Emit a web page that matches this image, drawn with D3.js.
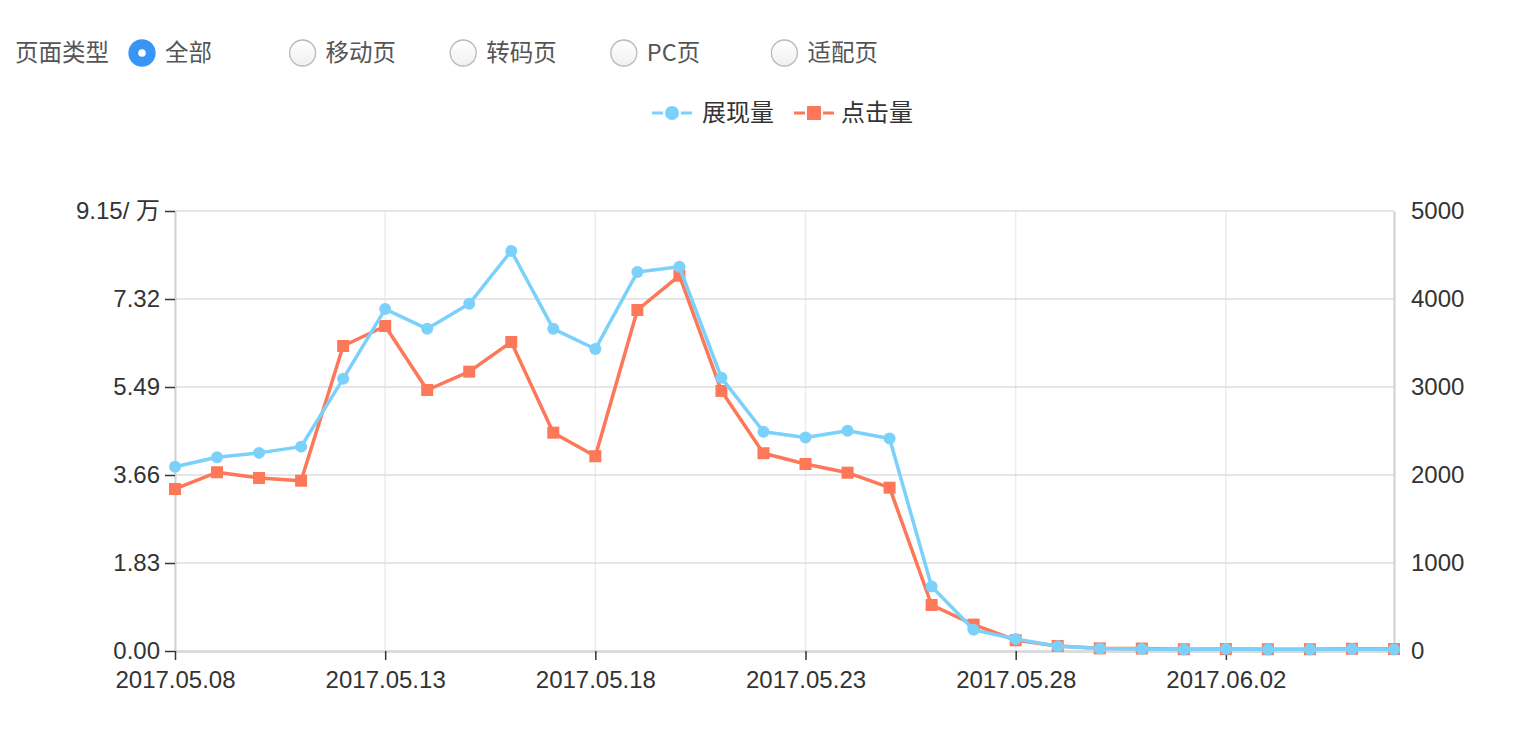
<!DOCTYPE html>
<html>
<head>
<meta charset="utf-8">
<script src="https://cdn.jsdelivr.net/npm/d3@7"></script>
<style>
  body { margin: 0; background: #fff; }
  svg { display: block; }
</style>
</head>
<body>
<div id="chart"></div>
<script>
// Data
const dates = ["2017.05.08", "2017.05.09", "2017.05.10", "2017.05.11", "2017.05.12",
    "2017.05.13", "2017.05.14", "2017.05.15", "2017.05.16", "2017.05.17",
    "2017.05.18", "2017.05.19", "2017.05.20", "2017.05.21", "2017.05.22",
    "2017.05.23", "2017.05.24", "2017.05.25", "2017.05.26", "2017.05.27",
    "2017.05.28", "2017.05.29", "2017.05.30", "2017.05.31", "2017.06.01",
    "2017.06.02", "2017.06.03", "2017.06.04", "2017.06.05", "2017.06.06"];
const xTickLabels = ["2017.05.08", "2017.05.13", "2017.05.18", "2017.05.23", "2017.05.28", "2017.06.02"];

// 展现量, in 万 (left axis)
const impressions = [3.83, 4.03, 4.12, 4.25, 5.66, 7.11, 6.70, 7.22, 8.32, 6.70,
    6.28, 7.88, 7.99, 5.68, 4.56, 4.44, 4.58, 4.42, 1.34, 0.44,
    0.25, 0.10, 0.05, 0.04, 0.03, 0.04, 0.03, 0.03, 0.04, 0.03];
// 点击量 (right axis)
const clicks = [1841, 2031, 1966, 1935, 3466, 3693, 2966, 3174, 3511, 2481,
    2213, 3875, 4265, 2955, 2247, 2125, 2026, 1856, 523, 300,
    122, 57, 30, 28, 20, 22, 20, 20, 25, 22];

const leftTicks = [0, 1.83, 3.66, 5.49, 7.32, 9.15];
const rightTicks = [0, 1000, 2000, 3000, 4000, 5000];
const pageTypes = ["全部", "移动页", "转码页", "PC页", "适配页"];
const seriesNames = ["展现量", "点击量"];

const blue = "#7cd1fb";
const red = "#fd7759";
const cjk = "'Noto Sans CJK SC', 'Noto Sans', sans-serif";
const latin = "'Liberation Sans', Arial, sans-serif";

const W = 1538, H = 740;
const plot = { left: 175, right: 1394, top: 211, bottom: 651 };

const svg = d3.select("#chart").append("svg")
    .attr("width", W)
    .attr("height", H);

// ---- radio row ----
svg.append("text")
    .attr("x", 15).attr("y", 53)
    .attr("dy", "0.35em")
    .style("font-family", cjk).style("font-size", "23.5px")
    .attr("fill", "#555")
    .text("页面类型");

const defs = svg.append("defs");
const grad = defs.append("linearGradient")
    .attr("id", "radioGrad")
    .attr("x1", 0).attr("y1", 0).attr("x2", 0).attr("y2", 1);
grad.append("stop").attr("offset", "0%").attr("stop-color", "#fff");
grad.append("stop").attr("offset", "100%").attr("stop-color", "#f0f0f0");

const radios = svg.selectAll(".radio")
    .data(pageTypes)
    .enter()
    .append("g")
    .attr("class", "radio")
    .attr("transform", (d, i) => "translate(" + (142 + i * 160.6) + ",53)");

radios.append("circle")
    .attr("r", 13)
    .attr("fill", (d, i) => i === 0 ? "#3895f6" : "url(#radioGrad)")
    .attr("stroke", (d, i) => i === 0 ? "#3895f6" : "#b9b9b9")
    .attr("stroke-width", 1.3);

radios.filter((d, i) => i === 0)
    .append("circle")
    .attr("r", 3.8)
    .attr("fill", "#fff");

radios.append("text")
    .attr("x", 23)
    .attr("dy", "0.35em")
    .style("font-family", cjk).style("font-size", "23.5px")
    .attr("fill", "#555")
    .text(d => d);

// ---- scales ----
const x = d3.scalePoint()
    .domain(dates)
    .range([plot.left, plot.right]);

const yLeft = d3.scaleLinear()
    .domain([0, 9.15])
    .range([plot.bottom, plot.top]);

const yRight = d3.scaleLinear()
    .domain([0, 5000])
    .range([plot.bottom, plot.top]);

// ---- grid ----
svg.append("g")
    .selectAll("line")
    .data(xTickLabels.slice(1))
    .enter()
    .append("line")
    .attr("x1", d => x(d)).attr("x2", d => x(d))
    .attr("y1", plot.top).attr("y2", plot.bottom)
    .attr("stroke", "#ececec")
    .attr("stroke-width", 1.5);

svg.append("g")
    .selectAll("line")
    .data(leftTicks.slice(1))
    .enter()
    .append("line")
    .attr("x1", plot.left).attr("x2", plot.right)
    .attr("y1", d => yLeft(d)).attr("y2", d => yLeft(d))
    .attr("stroke", "#dedede")
    .attr("stroke-width", 1.5);

// ---- axes ----
const leftAxis = svg.append("g")
    .attr("transform", "translate(" + plot.left + ",0)")
    .call(d3.axisLeft(yLeft)
        .tickValues(leftTicks)
        .tickSize(10)
        .tickSizeOuter(0)
        .tickPadding(5)
        .tickFormat((d, i) => i === leftTicks.length - 1 ? d3.format(".2f")(d) + "/ 万" : d3.format(".2f")(d)));
leftAxis.select(".domain").attr("stroke", "#cfcfcf").attr("stroke-width", 2);
leftAxis.selectAll(".tick line").attr("stroke", "#333").attr("stroke-width", 1.5);
leftAxis.selectAll(".tick text")
    .attr("fill", "#333")
    .style("font-family", latin + ", " + cjk)
    .style("font-size", "24px");

const rightAxis = svg.append("g")
    .attr("transform", "translate(" + plot.right + ",0)")
    .call(d3.axisRight(yRight)
        .tickValues(rightTicks)
        .tickSize(0)
        .tickSizeOuter(0)
        .tickPadding(17)
        .tickFormat(d3.format("d")));
rightAxis.select(".domain").attr("stroke", "#cfcfcf").attr("stroke-width", 2);
rightAxis.selectAll(".tick text")
    .attr("fill", "#333")
    .style("font-family", latin)
    .style("font-size", "24px");

const bottomAxis = svg.append("g")
    .attr("transform", "translate(0," + plot.bottom + ")")
    .call(d3.axisBottom(x)
        .tickValues(xTickLabels)
        .tickSize(9)
        .tickSizeOuter(0)
        .tickPadding(11));
bottomAxis.select(".domain").attr("stroke", "#dcdcdc").attr("stroke-width", 3);
bottomAxis.selectAll(".tick line").attr("stroke", "#333").attr("stroke-width", 1.5);
bottomAxis.selectAll(".tick text")
    .attr("fill", "#333")
    .style("font-family", latin)
    .style("font-size", "24px");

// ---- lines ----
const clickLine = d3.line()
    .x((d, i) => x(dates[i]))
    .y(d => yRight(d));

const impLine = d3.line()
    .x((d, i) => x(dates[i]))
    .y(d => yLeft(d));

svg.append("path")
    .datum(clicks)
    .attr("d", clickLine)
    .attr("fill", "none")
    .attr("stroke", red)
    .attr("stroke-width", 3.5)
    .attr("stroke-linejoin", "round");

svg.append("g")
    .selectAll("rect")
    .data(clicks)
    .enter()
    .append("rect")
    .attr("x", (d, i) => x(dates[i]) - 6)
    .attr("y", d => yRight(d) - 6)
    .attr("width", 12)
    .attr("height", 12)
    .attr("fill", red);

svg.append("path")
    .datum(impressions)
    .attr("d", impLine)
    .attr("fill", "none")
    .attr("stroke", blue)
    .attr("stroke-width", 3.5)
    .attr("stroke-linejoin", "round");

svg.append("g")
    .selectAll("circle")
    .data(impressions)
    .enter()
    .append("circle")
    .attr("cx", (d, i) => x(dates[i]))
    .attr("cy", d => yLeft(d))
    .attr("r", 6)
    .attr("fill", blue);

// ---- legend ----
const legendX = [652, 794];
const legendColors = [blue, red];
const legend = svg.selectAll(".legend")
    .data(seriesNames)
    .enter()
    .append("g")
    .attr("class", "legend")
    .attr("transform", (d, i) => "translate(" + legendX[i] + ",113)");

legend.append("line")
    .attr("x1", 0).attr("x2", 40)
    .attr("stroke", (d, i) => legendColors[i])
    .attr("stroke-width", 3);

legend.each(function (d, i) {
    const g = d3.select(this);
    if (i === 0) {
        g.append("circle")
            .attr("cx", 20).attr("r", 8)
            .attr("fill", blue)
            .attr("stroke", "#fff").attr("stroke-width", 2);
    } else {
        g.append("rect")
            .attr("x", 12).attr("y", -8)
            .attr("width", 16).attr("height", 16)
            .attr("fill", red)
            .attr("stroke", "#fff").attr("stroke-width", 2);
    }
});

legend.append("text")
    .attr("x", (d, i) => i === 0 ? 50 : 47)
    .attr("dy", "0.35em")
    .style("font-family", cjk).style("font-size", "24px")
    .attr("fill", "#333")
    .text(d => d);
</script>
</body>
</html>
